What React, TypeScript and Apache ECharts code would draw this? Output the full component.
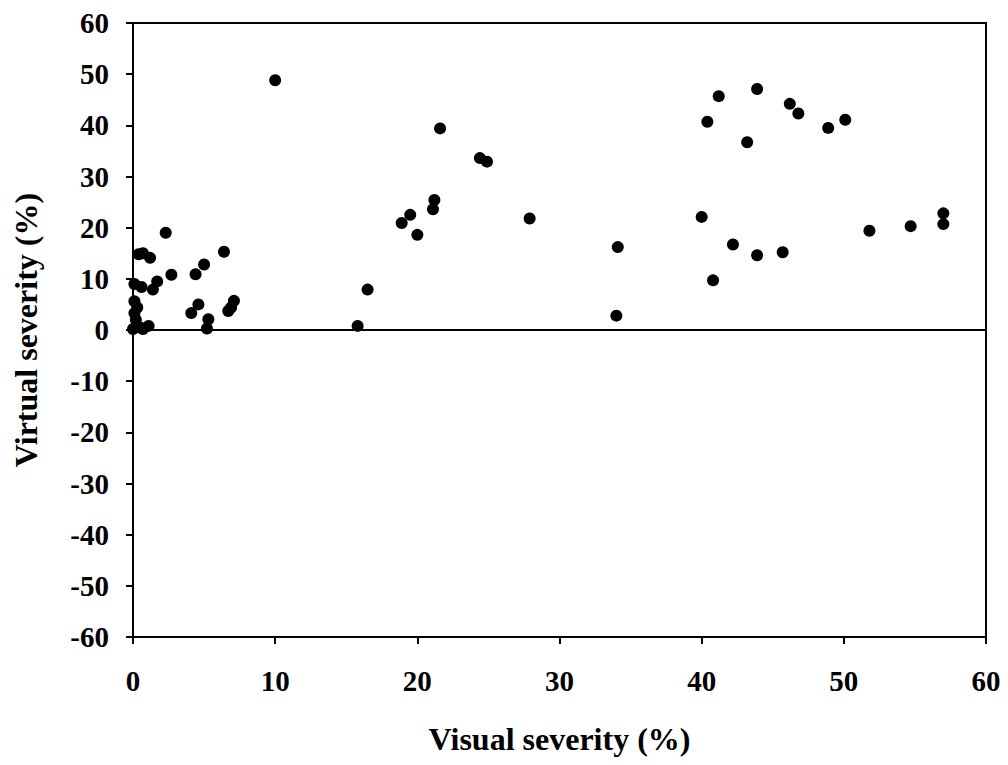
import React, { useEffect, useRef } from "react";
import * as echarts from "echarts";

const visualSeverity = [
  0.0, 0.1, 0.3, 0.1, 0.2, 0.5, 0.7, 1.1, 0.1, 0.6, 0.4, 0.7, 1.2, 1.4, 1.7, 2.3, 2.7, 4.4, 5.0, 6.4,
  4.6, 4.1, 7.1, 6.7, 6.9, 5.3, 5.2, 10.0, 15.8, 16.5, 18.9, 19.5, 20.0, 21.1, 21.2, 21.6, 24.4, 24.9,
  27.9, 34.0, 34.1, 40.0, 40.4, 40.8, 41.2, 42.2, 43.2, 43.9, 43.9, 45.7, 46.2, 46.8, 48.9, 50.1, 51.8,
  54.7, 57.0, 57.0,
];
const virtualSeverity = [
  0.2, 5.6, 4.4, 3.3, 2.0, 0.5, 0.2, 0.8, 9.0, 8.4, 14.8, 15.0, 14.1, 7.9, 9.5, 19.0, 10.8, 10.9, 12.8, 15.3,
  5.0, 3.3, 5.7, 3.7, 4.4, 2.1, 0.3, 48.8, 0.8, 7.9, 20.9, 22.5, 18.6, 23.6, 25.4, 39.4, 33.6, 32.9,
  21.8, 2.8, 16.2, 22.1, 40.7, 9.7, 45.7, 16.7, 36.7, 47.1, 14.6, 15.2, 44.2, 42.3, 39.5, 41.1, 19.4,
  20.3, 22.8, 20.7,
];
const xTitle = "Visual severity (%)";
const yTitle = "Virtual severity (%)";

const FONT = "'Liberation Serif', 'Times New Roman', serif";

export default function App() {
  const ref = useRef<HTMLDivElement>(null);
  useEffect(() => {
    if (!ref.current) return;
    const chart = echarts.init(ref.current, null, { renderer: "svg" });
    const data = visualSeverity.map((x, i) => [x, virtualSeverity[i]]);
    chart.setOption({
      animation: false,
      backgroundColor: "#fff",
      grid: { left: 133, top: 23, right: 22, bottom: 128, show: true, borderColor: "#000", borderWidth: 2 },
      xAxis: {
        type: "value",
        min: 0,
        max: 60,
        interval: 10,
        name: xTitle,
        nameLocation: "middle",
        nameGap: 86,
        nameTextStyle: { fontFamily: FONT, fontWeight: "bold", fontSize: 32, color: "#000" },
        axisLine: { onZero: false, lineStyle: { color: "#000", width: 2 } },
        axisTick: { show: true, length: 7, lineStyle: { color: "#000", width: 2 } },
        axisLabel: { margin: 29, fontFamily: FONT, fontWeight: "bold", fontSize: 29, color: "#000" },
        splitLine: { show: false },
      },
      yAxis: {
        type: "value",
        min: -60,
        max: 60,
        interval: 10,
        name: yTitle,
        nameLocation: "middle",
        nameGap: 91,
        nameTextStyle: { fontFamily: FONT, fontWeight: "bold", fontSize: 32, color: "#000" },
        axisLine: { onZero: false, lineStyle: { color: "#000", width: 2 } },
        axisTick: { show: true, length: 7, lineStyle: { color: "#000", width: 2 } },
        axisLabel: { margin: 24, fontFamily: FONT, fontWeight: "bold", fontSize: 29, color: "#000" },
        splitLine: { show: false },
      },
      series: [
        {
          type: "scatter",
          data,
          symbol: "circle",
          symbolSize: 12,
          itemStyle: { color: "#000", opacity: 1 },
          markLine: {
            silent: true,
            symbol: "none",
            label: { show: false },
            lineStyle: { color: "#000", width: 2, type: "solid" },
            data: [{ yAxis: 0 }],
          },
        },
      ],
    });
    return () => chart.dispose();
  }, []);
  return (
    <div
      ref={ref}
      style={{ position: "fixed", left: 0, top: 0, width: 1008, height: 765, background: "#fff" }}
    />
  );
}
